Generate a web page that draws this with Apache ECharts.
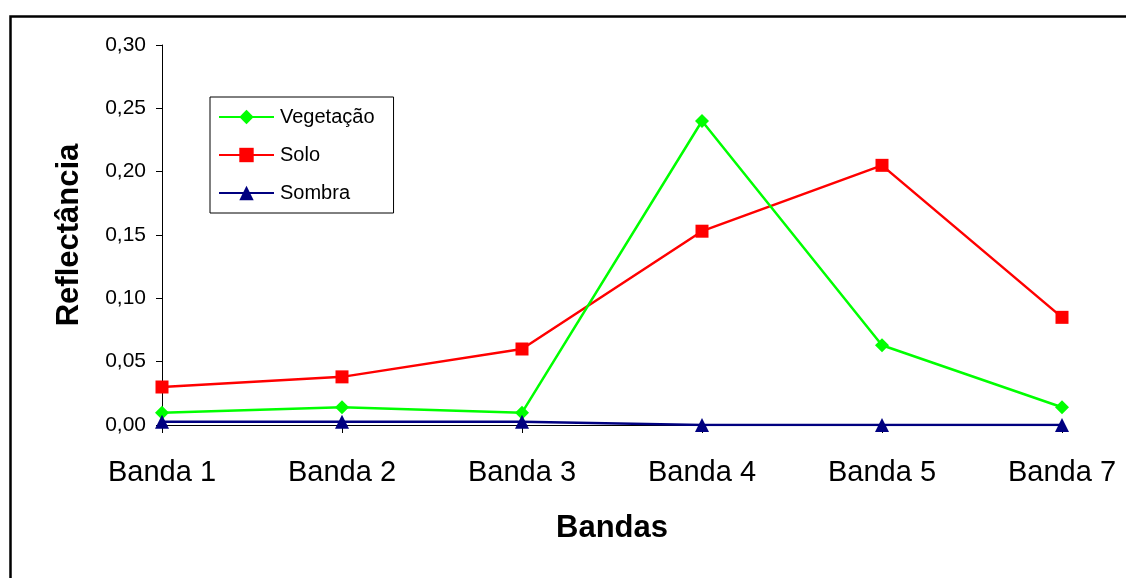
<!DOCTYPE html>
<html>
<head>
<meta charset="utf-8">
<script src="https://cdn.jsdelivr.net/npm/echarts@6/dist/echarts.min.js"></script>
<style>
html,body{margin:0;padding:0;background:#fff;}
#c{width:1126px;height:578px;}
</style>
</head>
<body>
<div id="c"></div>
<script>
var categories = ['Banda 1', 'Banda 2', 'Banda 3', 'Banda 4', 'Banda 5', 'Banda 7'];
var vegetacao = [0.0097, 0.014, 0.0097, 0.240, 0.063, 0.014];
var solo = [0.030, 0.038, 0.060, 0.153, 0.205, 0.085];
var sombra = [0.0026, 0.0026, 0.0026, 0.0, 0.0, 0.0];
var yTicks = ['0,00', '0,05', '0,10', '0,15', '0,20', '0,25', '0,30'];

var FONT = '"Liberation Sans", Arial, sans-serif';
var chart = echarts.init(document.getElementById('c'), null, {renderer: 'canvas'});
chart.setOption({
  animation: false,
  backgroundColor: '#fff',
  graphic: [{
    type: 'rect', left: 8, top: 14, z: 100,
    shape: {x: 0, y: 0, width: 1140, height: 600},
    style: {fill: 'none', stroke: '#000', lineWidth: 2.5}
  }],
  grid: {left: 162, right: 64, top: 45, bottom: 153, containLabel: false},
  legend: {
    orient: 'vertical', left: 210, top: 97,
    padding: [10, 19, 10, 8],
    itemGap: 18, itemWidth: 55, itemHeight: 18,
    backgroundColor: '#fff', borderColor: '#000', borderWidth: 1, borderRadius: 0,
    textStyle: {fontFamily: FONT, fontSize: 20, color: '#000', padding: [0, 0, 0, 1]},
    data: ['Vegetação', 'Solo', 'Sombra']
  },
  xAxis: {
    type: 'category', data: categories, boundaryGap: false,
    axisLine: {lineStyle: {color: '#000', width: 1}},
    axisTick: {show: true, length: 8, lineStyle: {color: '#000'}},
    axisLabel: {color: '#000', fontFamily: FONT, fontSize: 29, margin: 33},
    name: 'Bandas', nameLocation: 'middle', nameGap: 88,
    nameTextStyle: {fontFamily: FONT, fontSize: 31, fontWeight: 'bold', color: '#000'},
    splitLine: {show: false}
  },
  yAxis: {
    type: 'value', min: 0, max: 0.3, interval: 0.05,
    axisLine: {show: true, lineStyle: {color: '#000', width: 1}},
    axisTick: {show: true, length: 6, lineStyle: {color: '#000'}},
    axisLabel: {color: '#000', fontFamily: FONT, fontSize: 21, margin: 16,
      formatter: function (v) { return yTicks[Math.round(v / 0.05)]; }},
    splitLine: {show: false},
    name: 'Reflectância', nameLocation: 'middle', nameGap: 77, nameRotate: 90,
    nameTextStyle: {fontFamily: FONT, fontSize: 31, fontWeight: 'bold', color: '#000'}
  },
  series: [
    {name: 'Vegetação', type: 'line', data: vegetacao, symbol: 'diamond', symbolSize: 14,
     itemStyle: {color: '#00FF00'}, lineStyle: {color: '#00FF00', width: 2.5}, z: 3},
    {name: 'Solo', type: 'line', data: solo, symbol: 'rect', symbolSize: 13,
     itemStyle: {color: '#FF0000'}, lineStyle: {color: '#FF0000', width: 2.5}, z: 2},
    {name: 'Sombra', type: 'line', data: sombra, symbol: 'triangle', symbolSize: 14,
     itemStyle: {color: '#000080'}, lineStyle: {color: '#000080', width: 2.5}, z: 4}
  ]
});
</script>
</body>
</html>
